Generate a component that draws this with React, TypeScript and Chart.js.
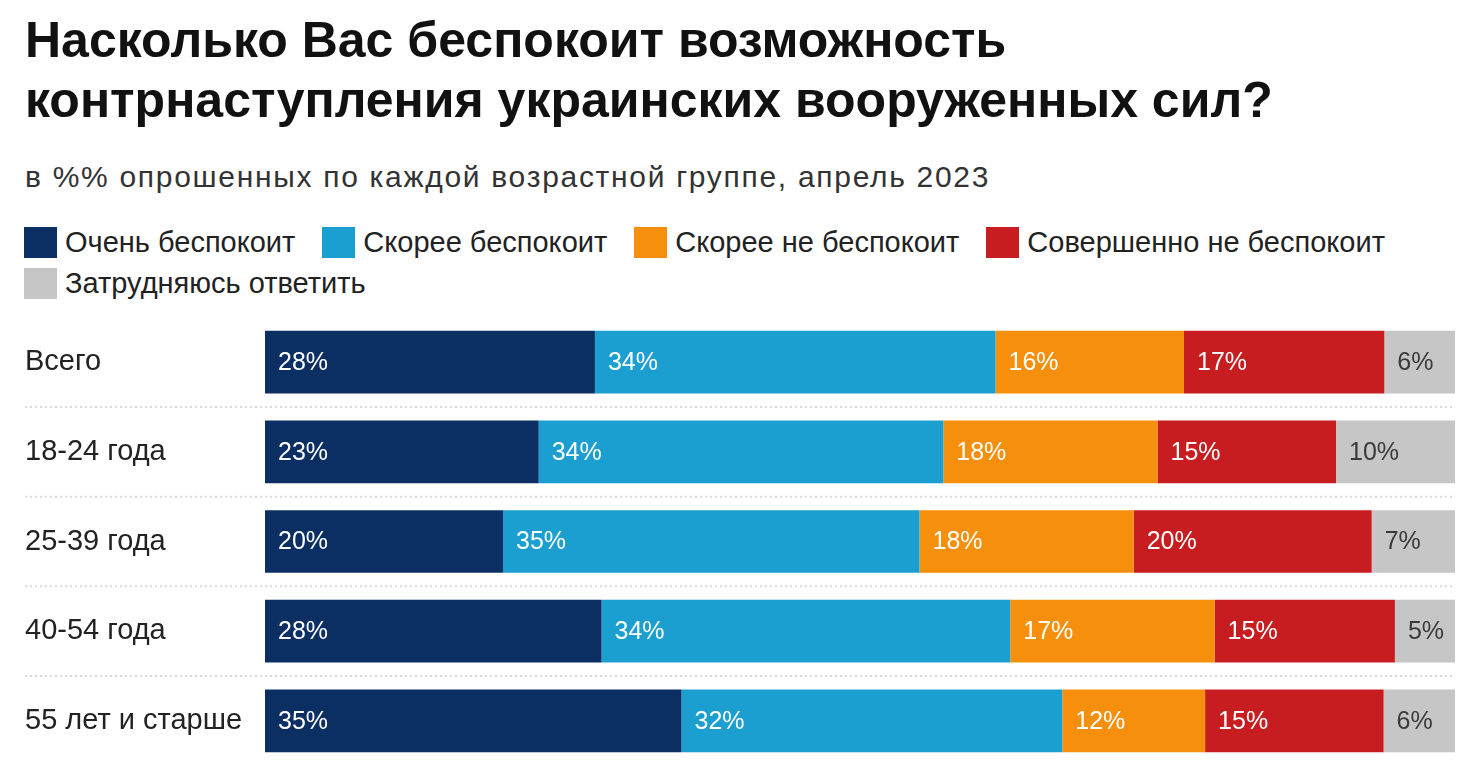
import { useEffect, useRef } from "react"
import { Chart, registerables } from "chart.js"

Chart.register(...registerables)

const categories = ["Всего", "18-24 года", "25-39 года", "40-54 года", "55 лет и старше"]
const seriesNames = [
  "Очень беспокоит",
  "Скорее беспокоит",
  "Скорее не беспокоит",
  "Совершенно не беспокоит",
  "Затрудняюсь ответить",
]
const veryConcerned = [28, 23, 20, 28, 35]
const ratherConcerned = [34, 34, 35, 34, 32]
const ratherNotConcerned = [16, 18, 18, 17, 12]
const notConcerned = [17, 15, 20, 15, 15]
const hardToSay = [6, 10, 7, 5, 6]
const colors = ["#0b2f63", "#1b9fd1", "#f68f0c", "#c81d20", "#c6c6c6"]

const FONT = "'Liberation Sans', Arial, sans-serif"

export default function App() {
  const chartRef = useRef<HTMLCanvasElement>(null)
  const chartInstance = useRef<Chart | null>(null)

  useEffect(() => {
    document.body.style.margin = "0"
    if (!chartRef.current) return
    if (chartInstance.current) chartInstance.current.destroy()

    const series = [veryConcerned, ratherConcerned, ratherNotConcerned, notConcerned, hardToSay]
    // каждая строка растягивается на 100%
    const rowSums = categories.map((_, i) => series.reduce((s, arr) => s + arr[i], 0))

    const separators = {
      id: "separators",
      beforeDatasetsDraw(chart: Chart) {
        const { ctx, chartArea } = chart
        const y = chart.scales.y
        ctx.save()
        ctx.strokeStyle = "#dadada"
        ctx.lineWidth = 2
        ctx.setLineDash([2, 3])
        for (let i = 0; i < categories.length - 1; i++) {
          const py = (y.getPixelForValue(i) + y.getPixelForValue(i + 1)) / 2
          ctx.beginPath()
          ctx.moveTo(25, py)
          ctx.lineTo(chartArea.right, py)
          ctx.stroke()
        }
        ctx.restore()
      },
    }

    const valueLabels = {
      id: "valueLabels",
      afterDatasetsDraw(chart: Chart) {
        const { ctx } = chart
        ctx.save()
        ctx.font = `25px ${FONT}`
        ctx.textBaseline = "middle"
        ctx.textAlign = "left"
        chart.data.datasets.forEach((ds, di) => {
          const meta = chart.getDatasetMeta(di)
          meta.data.forEach((el: any, i) => {
            ctx.fillStyle = di === 4 ? "#3a3a3a" : "#ffffff"
            ctx.fillText(`${series[di][i]}%`, el.base + 13, el.y + 1)
          })
        })
        ctx.restore()
      },
    }

    chartInstance.current = new Chart(chartRef.current, {
      type: "bar",
      data: {
        labels: categories,
        datasets: series.map((arr, di) => ({
          label: seriesNames[di],
          data: arr.map((v, i) => (v / rowSums[i]) * 100),
          backgroundColor: colors[di],
          borderWidth: 0,
          categoryPercentage: 0.7,
          barPercentage: 1,
        })),
      },
      options: {
        indexAxis: "y",
        animation: false,
        responsive: false,
        maintainAspectRatio: false,
        layout: { padding: { top: 16, bottom: 11, left: 25, right: 25 } },
        plugins: {
          legend: { display: false },
          tooltip: { enabled: false },
        },
        scales: {
          x: { stacked: true, min: 0, max: 100, display: false },
          y: {
            stacked: true,
            grid: { display: false },
            border: { display: false },
            afterFit(scale: any) {
              scale.width = 240
            },
            ticks: {
              crossAlign: "far",
              padding: 0,
              color: "#222",
              font: { size: 29, family: FONT },
            },
          },
        },
      },
      plugins: [separators, valueLabels],
    })

    return () => {
      if (chartInstance.current) {
        chartInstance.current.destroy()
        chartInstance.current = null
      }
    }
  }, [])

  return (
    <div style={{ position: "relative", width: 1480, height: 783, background: "#fff", fontFamily: FONT }}>
      <div
        style={{
          position: "absolute",
          left: 25,
          top: 10,
          fontSize: 50,
          fontWeight: "bold",
          lineHeight: "60px",
          color: "#111",
          whiteSpace: "nowrap",
        }}
      >
        Насколько Вас беспокоит возможность
        <br />
        контрнаступления украинских вооруженных сил?
      </div>
      <div
        style={{
          position: "absolute",
          left: 25,
          top: 160,
          fontSize: 30,
          letterSpacing: 1.7,
          color: "#333",
          whiteSpace: "nowrap",
        }}
      >
        в %% опрошенных по каждой возрастной группе, апрель 2023
      </div>
      <div style={{ position: "absolute", left: 24, top: 222, width: 1440 }}>
        {[seriesNames.slice(0, 4), seriesNames.slice(4)].map((row, ri) => (
          <div key={ri} style={{ display: "flex", height: 41, alignItems: "center" }}>
            {row.map((name) => {
              const idx = seriesNames.indexOf(name)
              return (
                <div key={name} style={{ display: "flex", alignItems: "center", marginRight: 27 }}>
                  <span
                    style={{ width: 33, height: 31, background: colors[idx], display: "inline-block", marginRight: 8 }}
                  />
                  <span style={{ fontSize: 29, color: "#222", whiteSpace: "nowrap" }}>{name}</span>
                </div>
              )
            })}
          </div>
        ))}
      </div>
      <canvas
        ref={chartRef}
        width={1480}
        height={483}
        style={{ position: "absolute", left: 0, top: 300, width: 1480, height: 483 }}
      />
    </div>
  )
}
